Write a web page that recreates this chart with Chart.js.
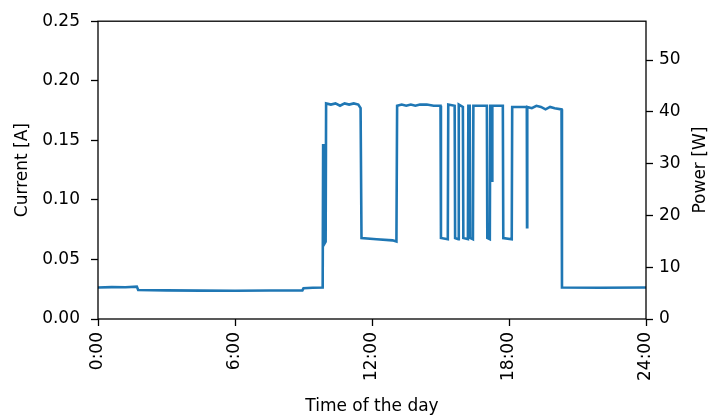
<!DOCTYPE html>
<html>
<head>
<meta charset="utf-8">
<script src="https://cdn.jsdelivr.net/npm/chart.js@4.4.1/dist/chart.umd.min.js"></script>
<style>
  body { margin: 0; background: #fff; }
</style>
</head>
<body>
<canvas id="myChart" width="713" height="419"></canvas>
<script>
// time of day in hours and the measured current (A)
var hours = [
  0, 0.6, 1.2, 1.7, 1.76, 3.0, 4.5, 6.0, 7.5, 8.95, 9.0, 9.4, 9.84,
  9.86, 9.88, 9.97, 9.99, 10.2, 10.4, 10.6, 10.8, 11.0, 11.2, 11.4, 11.5, 11.54, 12.2, 12.9, 13.07,
  13.1, 13.3, 13.5, 13.7, 13.9, 14.1, 14.4, 14.7, 15.0, 15.02, 15.32,
  15.34, 15.62, 15.64, 15.78, 15.8, 15.98, 16.0, 16.2, 16.22, 16.28, 16.3, 16.42,
  16.44, 16.7, 17.03, 17.05, 17.16, 17.18, 17.25, 17.26, 17.27, 17.5, 17.73, 17.75, 18.12,
  18.14, 18.4, 18.78, 18.79, 18.8, 19.0, 19.2, 19.4, 19.6, 19.8, 20.0, 20.3, 20.32, 22.0, 24.0
];
var current = [
  0.0265, 0.0268, 0.0266, 0.0272, 0.0243, 0.0240, 0.0238, 0.0237, 0.0239, 0.0240, 0.0258, 0.0262, 0.0265,
  0.147, 0.062, 0.065, 0.181, 0.180, 0.181, 0.179, 0.181, 0.180, 0.181, 0.180, 0.177, 0.068, 0.067, 0.066, 0.065,
  0.179, 0.180, 0.179, 0.180, 0.179, 0.180, 0.180, 0.179, 0.179, 0.068, 0.067,
  0.180, 0.179, 0.068, 0.067, 0.180, 0.178, 0.068, 0.067, 0.179, 0.179, 0.068, 0.067,
  0.179, 0.179, 0.179, 0.068, 0.067, 0.179, 0.179, 0.116, 0.179, 0.179, 0.179, 0.068, 0.067,
  0.178, 0.178, 0.178, 0.077, 0.178, 0.177, 0.179, 0.178, 0.176, 0.178, 0.177, 0.176, 0.0265, 0.0262, 0.0265
];
var hourTicks = [0, 6, 12, 18, 24];
var currentMax = 0.25;
var powerMax = 57.5; // 230 V * 0.25 A

var points = [];
for (var i = 0; i < hours.length; i++) {
  points.push({ x: hours[i], y: current[i] });
}

Chart.defaults.font.family = 'DejaVu Sans';
Chart.defaults.font.size = 17;
Chart.defaults.color = '#000';

// box around plot + right label that reads bottom to top
var frame = {
  id: 'frame',
  afterDraw: function (chart) {
    var ctx = chart.ctx;
    var a = chart.chartArea;
    ctx.save();
    ctx.strokeStyle = '#000';
    ctx.lineWidth = 1.3;
    ctx.strokeRect(a.left, a.top, a.right - a.left, a.bottom - a.top);
    ctx.translate(701, (a.top + a.bottom) / 2);
    ctx.rotate(-Math.PI / 2);
    ctx.fillStyle = '#000';
    ctx.font = '17px "DejaVu Sans"';
    ctx.textAlign = 'center';
    ctx.textBaseline = 'middle';
    ctx.fillText('Power [W]', 0, 0);
    ctx.restore();
  }
};

var tickGrid = { drawOnChartArea: false, color: '#000', tickLength: 7, tickWidth: 1.3 };

var ctx = document.getElementById('myChart').getContext('2d');
var chart = new Chart(ctx, {
  type: 'line',
  data: {
    datasets: [{
      label: 'current',
      data: points,
      borderColor: '#1f77b4',
      borderWidth: 2.6,
      pointRadius: 0,
      tension: 0,
      yAxisID: 'y'
    }]
  },
  options: {
    responsive: false,
    animation: false,
    layout: { padding: { top: 19, left: 0, right: 0, bottom: 0 } },
    plugins: { legend: { display: false }, tooltip: { enabled: false } },
    scales: {
      x: {
        type: 'linear',
        min: 0,
        max: 24,
        afterFit: function (s) { s.height = 100; },
        afterBuildTicks: function (s) { s.ticks = hourTicks.map(function (v) { return { value: v }; }); },
        ticks: {
          maxRotation: 90,
          minRotation: 90,
          padding: 6,
          callback: function (v) { return v + ':00'; }
        },
        grid: tickGrid,
        border: { display: false },
        title: { display: true, text: 'Time of the day', padding: { top: 0, bottom: 2 } }
      },
      y: {
        position: 'left',
        min: 0,
        max: currentMax,
        afterFit: function (s) { s.width = 98; },
        ticks: {
          stepSize: 0.05,
          padding: 11,
          callback: function (v) { return v.toFixed(2); }
        },
        grid: tickGrid,
        border: { display: false },
        title: { display: true, text: 'Current [A]', padding: { top: 12, bottom: 0 } }
      },
      y2: {
        position: 'right',
        min: 0,
        max: powerMax,
        afterFit: function (s) { s.width = 67; },
        ticks: { stepSize: 10, padding: 6, includeBounds: false },
        grid: tickGrid,
        border: { display: false }
      }
    }
  },
  plugins: [frame]
});
</script>
</body>
</html>
